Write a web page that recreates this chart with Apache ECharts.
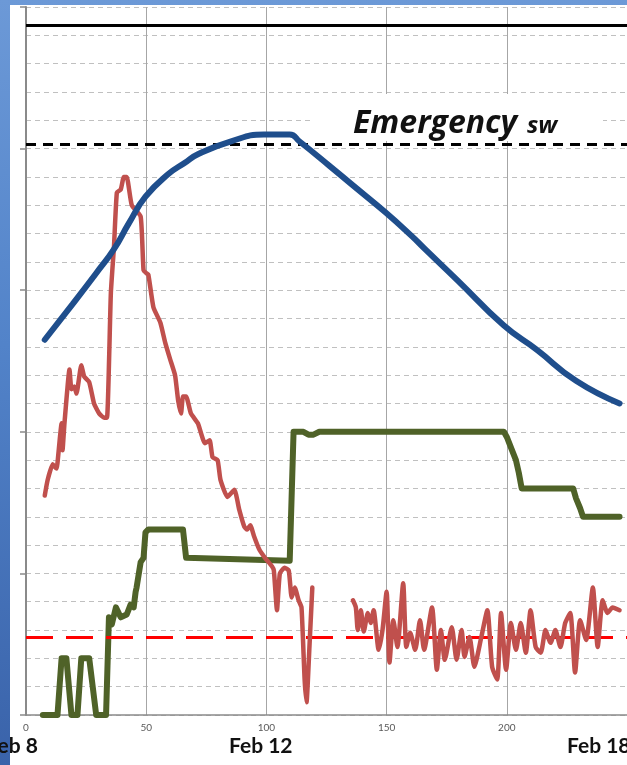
<!DOCTYPE html>
<html><head><meta charset="utf-8">
<script src="https://cdn.jsdelivr.net/npm/echarts/dist/echarts.min.js"></script>
<style>
html,body{margin:0;padding:0;width:627px;height:765px;overflow:hidden;background:linear-gradient(180deg,#6c99d7 0%,#5283c9 45%,#3a63aa 100%);}
#panel{position:absolute;left:10px;top:5px;width:617px;height:760px;background:#ffffff;}
#chart{position:absolute;left:0;top:0;width:627px;height:765px;}
</style></head>
<body><div id="panel"></div><div id="chart"></div>
<script>
// axis ranges
const xMin = 0, xMax = 250, xStep = 50;
const yMin = 0, yMax = 500, yStep = 100;

// date labels under the axis
const dateLabels = ["Feb 8", "Feb 12", "Feb 18"];

// horizontal reference levels
const topLevel = 487;
const emergencyLevel = 403;
const lowLevel = 55;

// blue curve
const blueData = [[7.8,265],[19.3,290],[29.2,312],[36.6,329],[42.7,347],[49.7,366],[59.2,382],[66.1,390],[71.5,396],[85.0,405],[99.0,410],[109.7,410],[113.8,405],[126.1,388],[136.0,374],[149.5,355],[160.6,338],[166.0,329],[179.5,307],[198.8,275],[212.4,258],[228.8,236],[246.9,220]];

// red curve, first segment
const redPart1 = [[7.8,155],[9.0,166],[11.1,177],[12.7,174],[13.1,178],[14.8,206],[15.2,187],[16.0,206],[18.1,244],[18.9,230],[20.1,232],[21.0,227],[23.0,247],[24.2,239],[26.3,235],[28.3,220],[30.4,213],[32.5,210],[33.7,210],[35.3,298],[36.6,331],[37.8,369],[39.4,371],[40.7,380],[41.9,380],[44.0,360],[47.7,352],[48.9,314],[50.1,312],[50.9,311],[53.0,288],[55.9,277],[57.9,263],[60.0,251],[62.0,240],[63.3,222],[64.5,213],[65.3,225],[66.6,225],[68.6,213],[71.5,206],[74.4,192],[76.4,194],[77.6,182],[79.7,180],[80.9,166],[83.8,154],[86.7,159],[88.7,145],[90.8,133],[92.0,131],[93.3,134],[94.9,126],[97.0,117],[99.4,111],[102.3,105],[103.1,102],[104.4,74],[105.6,100],[107.6,104],[109.3,102],[110.5,83],[111.8,90],[113.4,81],[114.6,76],[115.9,25],[116.7,9],[117.9,48],[119.1,90]];

// red curve, second segment
const redPart2 = [[136.0,81],[137.2,76],[138.0,60],[139.3,74],[140.5,59],[142.2,72],[143.4,65],[144.6,74],[146.7,46],[148.3,60],[150.0,87],[151.2,37],[152.8,67],[154.5,48],[156.9,93],[158.2,48],[159.8,58],[161.9,46],[163.9,67],[165.6,46],[168.9,76],[170.9,32],[172.6,60],[174.2,39],[177.1,62],[179.1,39],[181.2,60],[182.4,41],[184.5,55],[186.5,34],[189.4,55],[191.9,74],[193.9,34],[196.0,25],[197.6,72],[199.7,32],[201.7,65],[203.8,46],[205.8,65],[207.9,44],[209.9,74],[212.0,48],[214.1,44],[216.1,60],[218.2,51],[220.2,60],[222.3,48],[224.3,65],[226.4,72],[228.4,30],[230.5,67],[233.0,53],[235.8,90],[237.8,48],[239.9,81],[241.9,72],[244.0,76],[246.9,74]];

// green step curve
const greenData = [[7.0,0],[13.1,0],[14.8,40],[16.8,40],[18.9,0],[21.4,0],[23.0,40],[26.3,40],[29.2,0],[33.3,0],[34.5,69],[35.7,64],[37.4,76],[39.4,69],[41.9,71],[43.5,78],[44.8,76],[45.6,87],[46.0,90],[47.7,108],[48.9,111],[49.7,129],[50.9,131],[65.3,131],[66.6,111],[109.7,109],[111.3,200],[115.4,200],[117.5,198],[119.6,198],[122.0,200],[198.8,200],[200.1,196],[201.7,189],[203.8,180],[205.0,171],[206.2,160],[227.6,160],[228.8,153],[230.5,146],[231.7,140],[246.9,140]];

const chart = echarts.init(document.getElementById('chart'), null, {renderer: 'canvas'});
const font = 'Lato, "Open Sans", sans-serif';
const titleFont = '"Open Sans", Lato, sans-serif';

chart.setOption({
  animation: false,
  backgroundColor: 'transparent',
  grid: {left: 26, top: 7, bottom: 50, right: -7.5, containLabel: false},
  xAxis: {
    type: 'value', min: xMin, max: xMax, interval: xStep,
    axisLine: {show: true, onZero: false, lineStyle: {color: '#8a8a8a', width: 1.5}},
    axisTick: {show: false},
    axisLabel: {show: true, color: '#5a5a5a', fontSize: 10, fontFamily: font, margin: 8, showMaxLabel: false},
    splitLine: {show: true, lineStyle: {color: '#a6a6a6', width: 1}}
  },
  yAxis: {
    type: 'value', min: yMin, max: yMax, interval: yStep,
    axisLine: {show: true, lineStyle: {color: '#8a8a8a', width: 2}},
    axisTick: {show: true, inside: false, length: 6, lineStyle: {color: '#8a8a8a', width: 1.5}},
    axisLabel: {show: false},
    splitLine: {show: true, lineStyle: {color: '#c0c0c0', width: 1.2, type: [5, 4]}},
    minorTick: {show: false, splitNumber: 5},
    minorSplitLine: {show: true, lineStyle: {color: '#c0c0c0', width: 1.2, type: [5, 4]}}
  },
  graphic: [
    {type: 'rect', z: 1, silent: true, shape: {x: 310, y: 94, width: 293, height: 47}, style: {fill: '#ffffff'}},
    {type: 'text', z: 3, x: 353, y: 124, style: {text: 'Emergency', font: 'italic bold 32px ' + titleFont, fill: '#111', textVerticalAlign: 'middle', verticalAlign: 'middle'}},
    {type: 'text', z: 3, x: 527, y: 126, style: {text: 'sw', font: 'italic bold 24px ' + titleFont, fill: '#111', textVerticalAlign: 'middle', verticalAlign: 'middle'}},
    {type: 'text', z: 3, x: 38, y: 746, style: {text: dateLabels[0], font: 'bold 21px ' + font, fill: '#111', align: 'right', textAlign: 'right', verticalAlign: 'middle', textVerticalAlign: 'middle'}},
    {type: 'text', z: 3, x: 229, y: 746, style: {text: dateLabels[1], font: 'bold 21px ' + font, fill: '#111', verticalAlign: 'middle', textVerticalAlign: 'middle'}},
    {type: 'text', z: 3, x: 567, y: 746, style: {text: dateLabels[2], font: 'bold 21px ' + font, fill: '#111', verticalAlign: 'middle', textVerticalAlign: 'middle'}}
  ],
  series: [
    {
      type: 'line', name: 'green', data: greenData, showSymbol: false, symbol: 'none', z: 4,
      lineStyle: {color: '#4f6228', width: 6, join: 'round', cap: 'round'},
      markLine: {
        silent: true, symbol: ['none', 'none'], label: {show: false}, animation: false,
        data: [
          {yAxis: topLevel, lineStyle: {color: '#000', width: 3, type: 'solid'}},
          {yAxis: emergencyLevel, lineStyle: {color: '#000', width: 3, type: [10, 7]}},
          {yAxis: lowLevel, lineStyle: {color: '#ff0000', width: 3, type: [27, 13]}}
        ]
      }
    },
    {type: 'line', name: 'red1', data: redPart1, showSymbol: false, symbol: 'none', z: 5, smooth: 0.15,
      lineStyle: {color: '#c0504d', width: 4.5, join: 'round', cap: 'round'}},
    {type: 'line', name: 'red2', data: redPart2, showSymbol: false, symbol: 'none', z: 5, smooth: 0.2,
      lineStyle: {color: '#c0504d', width: 4.5, join: 'round', cap: 'round'}},
    {type: 'line', name: 'blue', data: blueData, showSymbol: false, symbol: 'none', z: 6, smooth: 0.5,
      lineStyle: {color: '#1f4e8c', width: 6, join: 'round', cap: 'round'}}
  ]
});
</script>
</body></html>
